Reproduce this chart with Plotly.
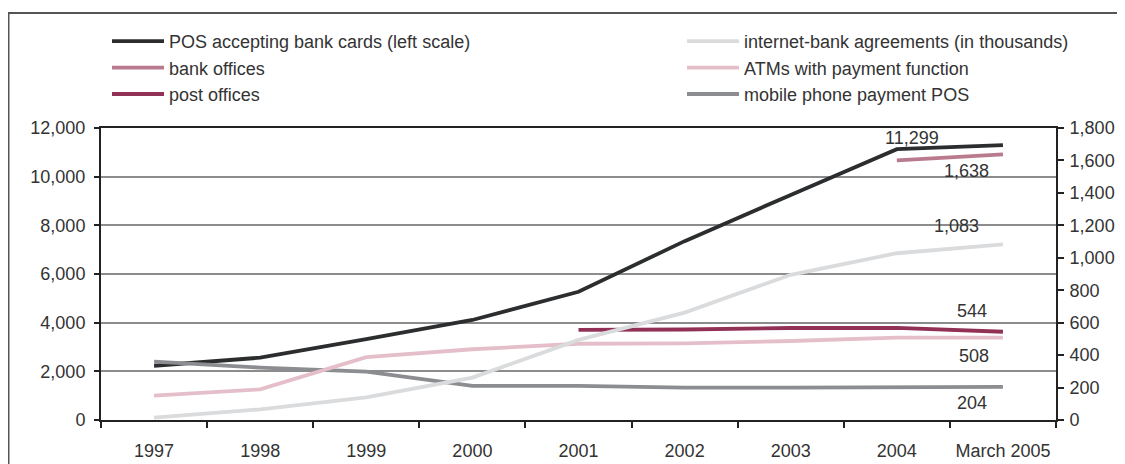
import plotly.graph_objects as go

categories = ["1997", "1998", "1999", "2000", "2001", "2002", "2003", "2004", "March 2005"]

pos_bank_cards = [2230, 2560, 3320, 4110, 5270, 7350, 9250, 11130, 11299]          # left scale
internet_bank = [15, 66, 140, 261, 494, 662, 895, 1028, 1083]                     # right scale
bank_offices = [None, None, None, None, None, None, None, 1600, 1638]             # right scale
atms_payment = [150, 189, 387, 436, 470, 472, 487, 508, 508]                       # right scale
post_offices = [None, None, None, None, 555, 558, 567, 568, 544]                   # right scale
mobile_pos = [360, 323, 298, 210, 210, 199, 199, 199, 204]                         # right scale

left_ticks = [0, 2000, 4000, 6000, 8000, 10000, 12000]
right_ticks = [0, 200, 400, 600, 800, 1000, 1200, 1400, 1600, 1800]

FONT = "Liberation Sans, Arial, sans-serif"
TXT = "#333333"

fig = go.Figure()

def add(name, y, color, axis, legend, rank):
    fig.add_trace(go.Scatter(
        x=categories, y=y, name=name, mode="lines",
        line=dict(color=color, width=3.8),
        yaxis=axis, legend=legend, legendrank=rank,
        connectgaps=False, hoverinfo="skip",
    ))

# drawing order (later = on top)
add("mobile phone payment POS", mobile_pos, "#8b8d90", "y2", "legend2", 3)
add("ATMs with payment function", atms_payment, "#e4bfca", "y2", "legend2", 2)
add("post offices", post_offices, "#913156", "y2", "legend", 3)
add("bank offices", bank_offices, "#b97a8d", "y2", "legend", 2)
add("POS accepting bank cards (left scale)", pos_bank_cards, "#2b2d2e", "y", "legend", 1)
add("internet-bank agreements (in thousands)", internet_bank, "#d9dbdd", "y2", "legend2", 1)

# value labels at the last category
labels = [
    (pos_bank_cards[-1], "y", -91, 7),
    (bank_offices[-1], "y2", -36, -17),
    (internet_bank[-1], "y2", -46, 18),
    (post_offices[-1], "y2", -31, 21),
    (atms_payment[-1], "y2", -29, -18),
    (mobile_pos[-1], "y2", -31, -16),
]
for val, ax, dx, dy in labels:
    fig.add_annotation(x=categories[-1], y=val, xref="x", yref=ax,
                       text=f"{val:,}", showarrow=False, xshift=dx, yshift=dy,
                       font=dict(family=FONT, size=18, color=TXT))

# figure is placed 8px from page's top-left corner by the page margin
W, H = 1117, 456
ml, mr, mt, mb = 93, 69, 120, 44
pw, ph = W - ml - mr, H - mt - mb
def px(x): return (x - ml) / pw
def py(y): return 1 - (y - mt) / ph

# outer frame (top and left edges visible)
fig.add_shape(type="line", xref="paper", yref="paper", x0=px(0.5), x1=px(0.5), y0=py(470), y1=py(5),
              line=dict(color="#555555", width=2))
fig.add_shape(type="line", xref="paper", yref="paper", x0=px(0), x1=px(1115), y0=py(5), y1=py(5),
              line=dict(color="#555555", width=2))

legend_common = dict(orientation="v", xanchor="left", yanchor="top", bgcolor="rgba(0,0,0,0)",
                     borderwidth=0, itemwidth=52, font=dict(family=FONT, size=18, color=TXT),
                     itemclick=False, itemdoubleclick=False)

fig.update_layout(
    width=W, height=H,
    margin=dict(l=ml, r=mr, t=mt, b=mb, autoexpand=False),
    paper_bgcolor="white", plot_bgcolor="white",
    font=dict(family=FONT, size=18, color=TXT),
    showlegend=True,
    legend=dict(x=px(99), y=py(15), **legend_common),
    legend2=dict(x=px(674), y=py(15), **legend_common),
    xaxis=dict(type="category", range=[-0.5, 8.5], tickson="boundaries", ticks="outside",
               ticklen=6, tickcolor="#222222", tickwidth=1.5, showline=True, mirror=True,
               linecolor="#222222", linewidth=2, showgrid=False, ticklabelstandoff=13,
               tickfont=dict(family=FONT, size=18, color=TXT)),
    yaxis=dict(range=[0, 12000], tickvals=left_ticks, tickformat=",", ticks="outside",
               ticklen=5, tickcolor="#222222", tickwidth=1.5, showline=True,
               linecolor="#222222", linewidth=2, showgrid=True, gridcolor="#8c8c8c",
               gridwidth=1.5, zeroline=False, ticklabelstandoff=5,
               tickfont=dict(family=FONT, size=18, color=TXT)),
    yaxis2=dict(range=[0, 1800], tickvals=right_ticks, tickformat=",", overlaying="y",
                side="right", ticks="outside", ticklen=6, tickcolor="#222222", tickwidth=1.5,
                showline=True, linecolor="#222222", linewidth=2, showgrid=False, zeroline=False,
                ticklabelstandoff=2, tickfont=dict(family=FONT, size=18, color=TXT)),
)

fig.write_html("out.html")
